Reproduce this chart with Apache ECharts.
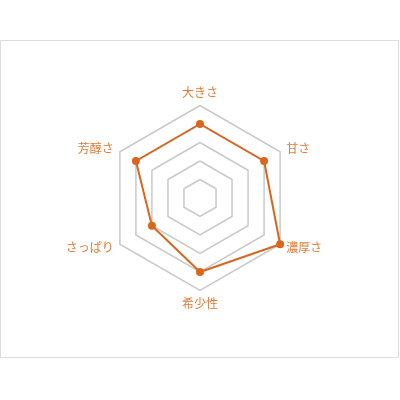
<!DOCTYPE html>
<html lang="ja">
<head>
    <meta charset="UTF-8">
    <title>radar</title>
    <script src="https://cdn.jsdelivr.net/npm/echarts@6/dist/echarts.min.js"></script>
    <style>
        html, body { margin: 0; padding: 0; background: #fff; }
    </style>
</head>
<body>
    <div id="main" style="width: 400px;height:400px;"></div>
    <script type="text/javascript">
        // indicators, counterclockwise from the top
        let indicators = ['大きさ', '芳醇さ', 'さっぱり', '希少性', '濃厚さ', '甘さ'];
        let scores = [4, 4, 3, 4, 5, 4];
        let maxScore = 5;

        let myChart = echarts.init(document.getElementById('main'));
        let options = {
            backgroundColor: '#fff',
            graphic: [{
                type: 'rect',
                shape: { x: 0.5, y: 40.5, width: 398, height: 317 },
                style: { fill: 'none', stroke: '#dcdcdc', lineWidth: 1 }
            }],
            radar: {
                center: [200, 198],
                radius: 92.5,
                startAngle: 90,
                splitNumber: 5,
                shape: 'polygon',
                nameGap: 7,
                indicator: indicators.map((n) => ({ name: n, max: maxScore, min: 0 })),
                axisName: {
                    color: '#e07b3a',
                    fontSize: 12,
                    fontFamily: '"Noto Sans CJK JP", sans-serif'
                },
                axisLine: { show: false },
                splitArea: { show: false },
                splitLine: { lineStyle: { color: '#c9c9c9', width: 1.5 } }
            },
            series: [{
                type: 'radar',
                symbol: 'circle',
                symbolSize: 8,
                itemStyle: { color: '#d9661f' },
                lineStyle: { color: '#d9661f', width: 2 },
                data: [{ value: scores }]
            }]
        };
        myChart.setOption(options);
    </script>
</body>
</html>
